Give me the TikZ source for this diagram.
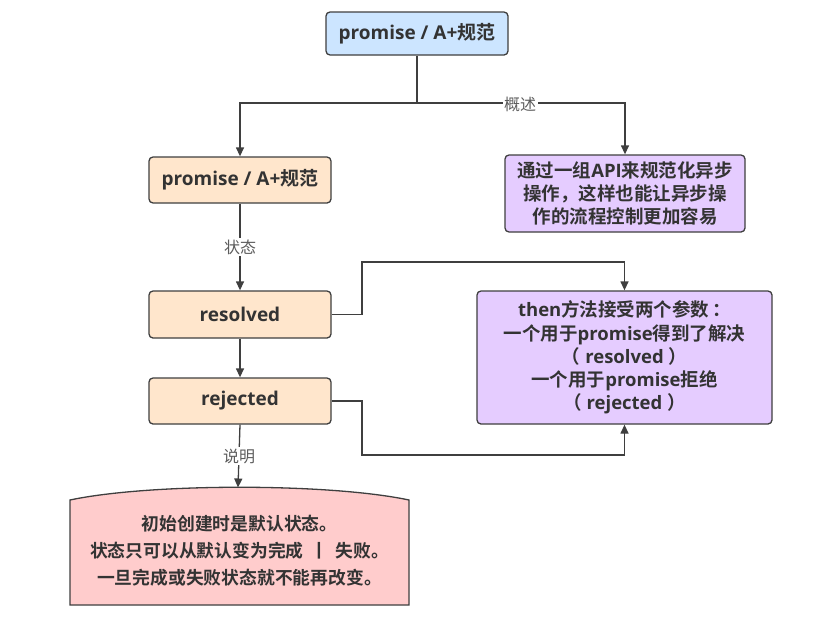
\documentclass[tikz,border=0pt]{standalone}
\usepackage{fontspec}
\setmainfont{Noto Sans CJK SC}[BoldFont={Noto Sans CJK SC Bold}]
\newfontfamily\lat{Open Sans}[BoldFont={Open Sans Bold}]
\usetikzlibrary{arrows.meta}
\definecolor{edge}{HTML}{3F3F3F}
\definecolor{txt}{HTML}{333333}
\definecolor{bluef}{HTML}{CCE5FF}
\definecolor{orangef}{HTML}{FFE6CC}
\definecolor{purplef}{HTML}{E5CCFF}
\definecolor{pinkf}{HTML}{FFCCCC}
\tikzset{
  box/.style={draw=edge, line width=1.3pt, rounded corners=4pt, text=txt,
    font=\fontsize{19}{23}\selectfont\bfseries, align=center, inner sep=0pt},
  pbox/.style={box, font=\fontsize{18.5}{23.2}\selectfont\bfseries},
  arr/.style={draw=edge, line width=1.3pt, -{Triangle[length=9pt,width=8pt]}},
  ln/.style={draw=edge, line width=1.3pt},
  lbl/.style={fill=white, text=txt!80, font=\fontsize{16}{18}\selectfont, inner sep=1.5pt}
}
\newcommand{\lw}[1]{{\lat #1}}
\begin{document}
\begin{tikzpicture}[x=1pt,y=-1pt]
\useasboundingbox (0,0) rectangle (838,624);
\node[box, fill=bluef, minimum width=182pt, minimum height=43pt] (top) at (417,33.5) {\lw{promise / A+}规范};
\node[box, fill=orangef, minimum width=182pt, minimum height=46pt] (spec) at (240,180) {\lw{promise / A+}规范};
\node[pbox, fill=purplef, minimum width=240pt, minimum height=77pt] (p1) at (625,193.5) {通过一组\lw{API}来规范化异步\\操作，这样也能让异步操\\作的流程控制更加容易};
\node[box, fill=orangef, minimum width=182pt, minimum height=47pt] (res) at (240,314.5) {\lw{resolved}};
\node[box, fill=orangef, minimum width=182pt, minimum height=46pt] (rej) at (240,401) {\lw{rejected}};
\node[pbox, fill=purplef, minimum width=295pt, minimum height=133pt] (p2) at (624.5,357.5) {\lw{then}方法接受两个参数\,：\\一个用于\lw{promise}得到了解决\\（\lw{ resolved }）\\一个用于\lw{promise}拒绝\\（\lw{ rejected }）};
% pink shape
\draw[draw=edge, line width=1.3pt, fill=pinkf] (70,605) -- (70,500) .. controls (150,483) and (329,483) .. (409,500) -- (409,605) -- cycle;
\coordinate (pinktop) at (238,487.5);
\node[text=txt, font=\fontsize{17.8}{27}\selectfont\bfseries, align=center] (note) at (239.5,551) {初始创建时是默认状态。\\状态只可以从默认变为完成 \,丨\, 失败。\\一旦完成或失败状态就不能再改变。};
% connectors
\coordinate (split) at (417,103);
\draw[ln] (top.south) -- (split);
\draw[arr] (split) -| (spec.north);
\draw[arr] (split) -| (p1.north);
\node[lbl] (l1) at (520,104) {概述};
\draw[arr] (spec.south) -- node[lbl] (l2) {状态} (res.north);
\draw[arr] (res.south) -- (rej.north);
\coordinate (c1) at (362,262);
\coordinate (c2) at (362,455);
\draw[arr] (res.east) -| (c1) -| (p2.north);
\draw[arr] (rej.east) -| (c2) -| (p2.south);
\draw[arr] (rej.south) -- node[lbl, pos=0.5] (l3) {说明} (pinktop);
\end{tikzpicture}
\end{document}
